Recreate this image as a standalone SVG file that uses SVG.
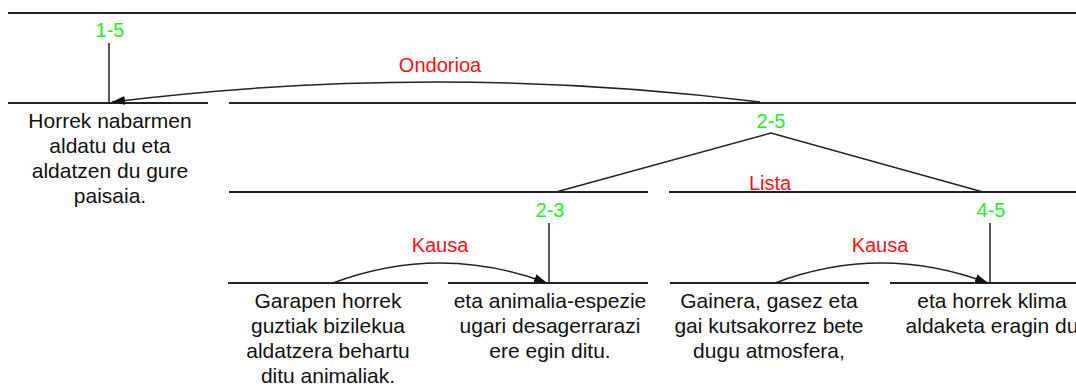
<svg xmlns="http://www.w3.org/2000/svg" width="1076" height="387" viewBox="0 0 1076 387">
<style>
.t{font-family:"Liberation Sans",Arial,sans-serif;font-size:21px;fill:#111;text-anchor:middle}
.g{font-family:"Liberation Sans",Arial,sans-serif;font-size:20px;fill:#22ee22;text-anchor:middle}
.r{font-family:"Liberation Sans",Arial,sans-serif;font-size:20px;fill:#ff1111;text-anchor:middle}
.h{stroke:#222;stroke-width:2;fill:none}
.c{stroke:#222;stroke-width:1.5;fill:none}
</style>
<defs>
<marker id="ah" viewBox="0 0 13 9" refX="13" refY="4.5" markerWidth="13" markerHeight="9" markerUnits="userSpaceOnUse" orient="auto">
<path d="M0,0 L13,4.5 L0,9 z" fill="#111"/>
</marker>
</defs>
<rect width="1076" height="387" fill="#fff"/>
<g id="top"><line class="h" x1="8" y1="13" x2="1076" y2="13"/></g>
<g id="n1-5"><text class="g" x="110" y="37">1-5</text></g>
<g id="n1">
<line class="h" x1="8" y1="103" x2="208" y2="103"/>
<text class="t" x="110" y="128">Horrek nabarmen</text>
<text class="t" x="110" y="153">aldatu du eta</text>
<text class="t" x="110" y="178">aldatzen du gure</text>
<text class="t" x="110" y="203">paisaia.</text>
</g>
<g id="n2-5">
<line class="h" x1="229" y1="103" x2="1076" y2="103"/>
<text class="g" x="771" y="128">2-5</text>
</g>
<g id="n2-3">
<line class="h" x1="229" y1="192" x2="648" y2="192"/>
<text class="g" x="550" y="217">2-3</text>
</g>
<g id="n4-5">
<line class="h" x1="669" y1="192" x2="1076" y2="192"/>
<text class="g" x="991" y="217">4-5</text>
</g>
<g id="n2">
<line class="h" x1="228" y1="283" x2="428" y2="283"/>
<text class="t" x="328" y="308">Garapen horrek</text>
<text class="t" x="328" y="333">guztiak bizilekua</text>
<text class="t" x="328" y="358">aldatzera behartu</text>
<text class="t" x="328" y="383">ditu animaliak.</text>
</g>
<g id="n3">
<line class="h" x1="448" y1="283" x2="648" y2="283"/>
<text class="t" x="550" y="308">eta animalia-espezie</text>
<text class="t" x="550" y="333">ugari desagerrarazi</text>
<text class="t" x="550" y="358">ere egin ditu.</text>
</g>
<g id="n4">
<line class="h" x1="670" y1="283" x2="869" y2="283"/>
<text class="t" x="769" y="308">Gainera, gasez eta</text>
<text class="t" x="769" y="333">gai kutsakorrez bete</text>
<text class="t" x="769" y="358">dugu atmosfera,</text>
</g>
<g id="n5">
<line class="h" x1="890" y1="283" x2="1076" y2="283"/>
<text class="t" x="992" y="308">eta horrek klima</text>
<text class="t" x="992" y="333">aldaketa eragin du</text>
</g>
<g id="connectors">
<line class="c" x1="109" y1="43" x2="109" y2="103"/>
<path class="c" d="M760,102 Q436,62 112,102" marker-end="url(#ah)"/>
<text class="r" x="440" y="72">Ondorioa</text>
<polyline class="c" points="556,192 771,133 983,192"/>
<text class="r" x="770" y="190">Lista</text>
<line class="c" x1="549" y1="223" x2="549" y2="283"/>
<path class="c" d="M333,283 Q440,243 547,283" marker-end="url(#ah)"/>
<text class="r" x="440" y="252">Kausa</text>
<line class="c" x1="990" y1="223" x2="990" y2="283"/>
<path class="c" d="M775,283 Q881,243 988,283" marker-end="url(#ah)"/>
<text class="r" x="880" y="252">Kausa</text>
</g>
</svg>
